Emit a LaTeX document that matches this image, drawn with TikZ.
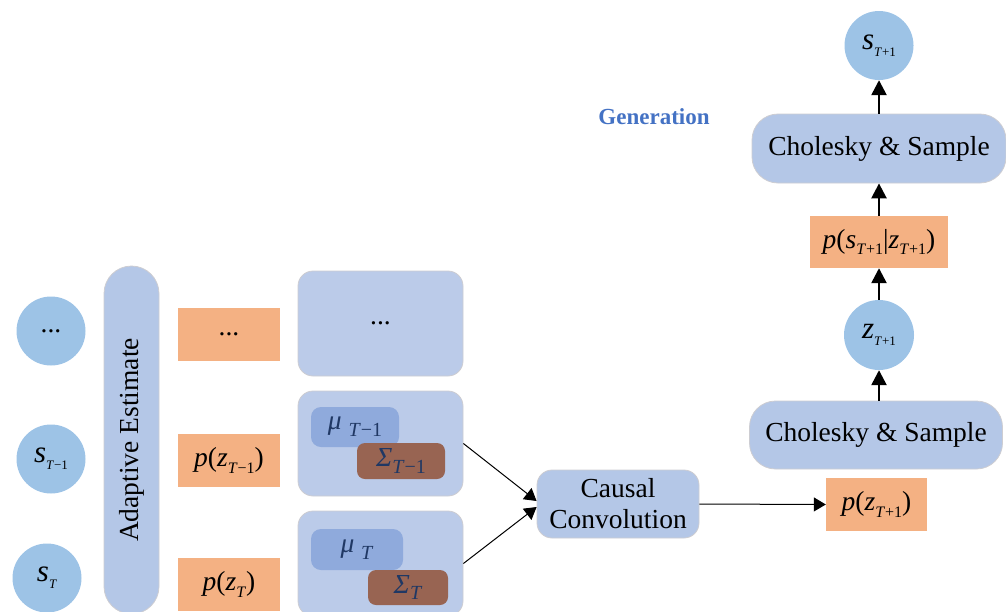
\documentclass[tikz,border=0pt]{standalone}
\usepackage{fontspec}
\setmainfont{Liberation Serif}
\usetikzlibrary{arrows.meta}
\definecolor{cblue}{RGB}{157,195,230}
\definecolor{bbox}{RGB}{180,199,231}
\definecolor{pbox}{RGB}{187,203,233}
\definecolor{obox}{RGB}{244,177,131}
\definecolor{mubox}{RGB}{143,170,220}
\definecolor{sigbox}{RGB}{152,100,82}
\definecolor{navy}{RGB}{32,56,100}
\definecolor{gencol}{RGB}{68,114,196}
\definecolor{edgecol}{RGB}{205,205,210}
\newcommand\lo[2][16]{\raisebox{-0.25em}{\fontsize{#1}{#1}\selectfont #2}}
\newcommand\mi[1]{\textit{#1}}
\newcommand\bigvar[1]{{\fontsize{31}{31}\selectfont\textit{#1}}}
\begin{document}
\begin{tikzpicture}[x=1pt,y=-1pt,font=\fontsize{27.5}{30}\selectfont,
  state/.style={circle,fill=cblue,minimum size=69pt,inner sep=0pt},
  dist/.style={rectangle,fill=obox,minimum width=102pt,minimum height=53pt,inner sep=0pt},
  panel/.style={rectangle,rounded corners=15pt,fill=pbox,draw=edgecol,line width=0.8pt,minimum width=165pt,minimum height=105pt,inner sep=0pt},
  mubx/.style={rectangle,rounded corners=10pt,fill=mubox,inner sep=0pt,text=navy},
  sigbx/.style={rectangle,rounded corners=8pt,fill=sigbox,inner sep=0pt,text=navy},
  proc/.style={rectangle,fill=bbox,draw=edgecol,line width=0.8pt,inner sep=0pt,align=center},
  thick arrow/.style={line width=2.5pt,-{Triangle[length=15pt,width=15pt]}},
  thin arrow/.style={line width=1pt,-{Triangle[length=12pt,width=14pt]}}
]
\useasboundingbox (0,0) rectangle (1006,611);
% left state circles
\node[state] (c1) at (51,331) {...};
\node[state] (c2) at (51,459) {\bigvar{s}\lo[13]{\mi{T}−1}};
\node[state] (c3) at (47,578) {\bigvar{s}\lo[13]{\mi{T}}};
% adaptive estimate pill
\node[proc,rounded corners=27.5pt,minimum width=55pt,minimum height=348pt] (ae) at (131.5,440) {};
\node[rotate=90] (aet) at (ae.center) {Adaptive Estimate};
% distributions
\node[dist] (o1) at (229,334.5) {...};
\node[dist] (o2) at (229,460.5) {\mi{p}(\mi{z}\lo{\mi{T}−1})};
\node[dist] (o3) at (229,584.5) {\mi{p}(\mi{z}\lo{\mi{T}})};
% panels
\node[panel] (b1) at (380.5,323.5) {...};
\node[panel] (b2) at (380.5,443.5) {};
\node[panel] (b3) at (380.5,563.5) {};
\node[mubx,minimum width=88pt,minimum height=40pt] (mu1) at (355,427) {\mi{μ} \lo[20]{\mi{T}−1}};
\node[sigbx,minimum width=88pt,minimum height=36pt] (sg1) at (401,461) {\mi{Σ}\lo[20]{\mi{T}−1}};
\node[mubx,minimum width=92pt,minimum height=41pt] (mu2) at (357,549.5) {\mi{μ} \lo[20]{\mi{T}}};
\node[sigbx,minimum width=80pt,minimum height=35pt] (sg2) at (408,587.5) {\mi{Σ}\lo[20]{\mi{T}}};
% causal convolution
\node[proc,rounded corners=15pt,minimum width=162pt,minimum height=68pt] (cc) at (618,504) {Causal\\[1pt]Convolution};
\node[dist,minimum width=101pt] (pz) at (876.5,504.5) {\mi{p}(\mi{z}\lo{\mi{T}+1})};
% generation column
\node[proc,rounded corners=26pt,minimum width=253pt,minimum height=68pt] (ch1) at (876,435) {Cholesky \& Sample};
\node[state,minimum size=70pt] (z) at (879,335) {\bigvar{z}\lo[13]{\mi{T}+1}};
\node[dist,minimum width=138pt,minimum height=52pt] (ps) at (879,242) {\mi{p}(\mi{s}\lo{\mi{T}+1}|\mi{z}\lo{\mi{T}+1})};
\node[proc,rounded corners=26pt,minimum width=254pt,minimum height=69pt] (ch2) at (879,148.5) {Cholesky \& Sample};
\node[state] (s) at (879,45.5) {\bigvar{s}\lo[13]{\mi{T}+1}};
\node[text=gencol,font=\fontsize{23}{26}\selectfont\bfseries] (gen) at (654,117) {Generation};
% connectors
\draw[thin arrow] (b2.east) -- ([yshift=3pt]cc.west);
\draw[thin arrow] (b3.east) -- ([yshift=-3pt]cc.west);
\draw[thin arrow] (cc.east) -- (pz.west);
\draw[thick arrow] (ch1.north -| z.south) -- (z.south);
\draw[thick arrow] (z.north) -- (ps.south);
\draw[thick arrow] (ps.north) -- (ch2.south);
\draw[thick arrow] (ch2.north) -- (s.south);
\end{tikzpicture}
\end{document}
